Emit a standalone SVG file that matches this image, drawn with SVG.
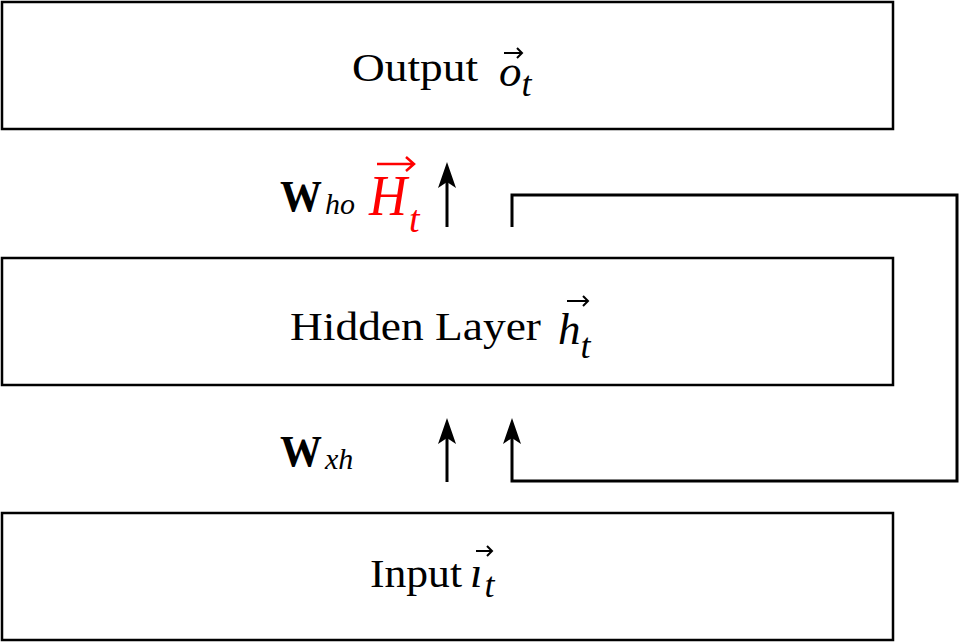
<svg xmlns="http://www.w3.org/2000/svg" width="959" height="643" viewBox="0 0 959 643">
<defs>
<style>
.box{fill:#fff;stroke:#000;stroke-width:2.5}
.lbl{font-family:"Liberation Serif","Times New Roman",serif;font-size:40px;fill:#000}
.m{font-family:"Liberation Serif","DejaVu Serif",serif;font-style:italic;fill:#000}
.mv{font-size:45px}
.ms{font-size:36px}
.w{font-family:"Liberation Serif",serif;font-weight:bold;font-size:44px}
.wi{font-family:"Liberation Serif",serif;font-style:italic;font-size:30px}
.con{fill:none;stroke:#000;stroke-width:3}
.acc{fill:none;stroke:#000;stroke-width:2}
</style>
<marker id="ah" viewBox="0 0 26 18" refX="16" refY="9" markerWidth="26" markerHeight="18" markerUnits="userSpaceOnUse" orient="auto">
<path d="M26 9 L0 0 L6 9 L0 18 Z" fill="#000"/>
</marker>
</defs>
<g id="output">
<rect class="box" x="2" y="2" width="891" height="127"/>
<text class="lbl" x="352" y="81" textLength="126" lengthAdjust="spacingAndGlyphs">Output</text>
<text class="m" x="499" y="86"><tspan class="mv">o</tspan><tspan class="ms" dy="10">t</tspan></text>
<path class="acc" d="M504 53 H522 M517 48 L522 53 L517 58"/>
</g>
<g id="hidden">
<rect class="box" x="2" y="258" width="891" height="127"/>
<text class="lbl" x="290" y="340" textLength="251" lengthAdjust="spacingAndGlyphs">Hidden Layer</text>
<text class="m" x="558" y="344"><tspan class="mv">h</tspan><tspan class="ms" dy="14">t</tspan></text>
<path class="acc" d="M567 301 H588 M583 296 L588 301 L583 306"/>
</g>
<g id="input">
<rect class="box" x="2" y="513" width="891" height="127"/>
<text class="lbl" x="370" y="587" textLength="92" lengthAdjust="spacingAndGlyphs">Input</text>
<text class="m" x="470" y="587"><tspan class="mv">ı</tspan><tspan class="ms" dx="2" dy="10">t</tspan></text>
<path class="acc" d="M476 551 H492 M487 546 L492 551 L487 556"/>
</g>
<g id="labels">
<text x="280" y="211"><tspan class="w" textLength="42" lengthAdjust="spacingAndGlyphs">W</tspan><tspan class="wi" dx="3" dy="3">ho</tspan></text>
<text x="280" y="466"><tspan class="w" textLength="42" lengthAdjust="spacingAndGlyphs">W</tspan><tspan class="wi" dx="3" dy="3">xh</tspan></text>
<g id="Ht">
<text class="m" x="369" y="215" style="fill:#f00"><tspan font-size="58" textLength="38" lengthAdjust="spacingAndGlyphs">H</tspan><tspan font-size="38" dx="2" dy="17">t</tspan></text>
<path d="M377 164 H414 M406 157 L414 164 L406 171" fill="none" stroke="#f00" stroke-width="2.5"/>
</g>
</g>
<g id="connectors">
<line class="con" x1="447" y1="227" x2="447" y2="172" marker-end="url(#ah)"/>
<line class="con" x1="447" y1="482" x2="447" y2="428" marker-end="url(#ah)"/>
<path class="con" d="M512 227 V195 H957 V481 H512 V428" marker-end="url(#ah)"/>
</g>
</svg>
